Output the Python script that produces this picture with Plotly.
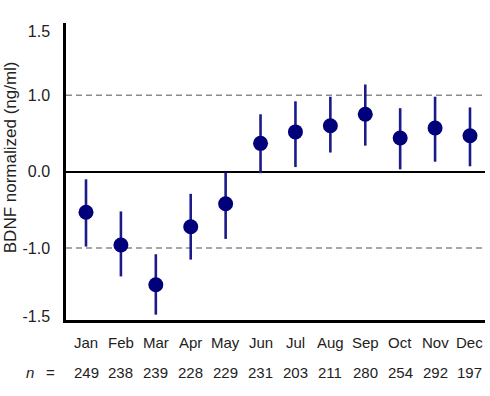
import plotly.graph_objects as go

months = ["Jan", "Feb", "Mar", "Apr", "May", "Jun", "Jul", "Aug", "Sep", "Oct", "Nov", "Dec"]
means = [-0.53, -0.96, -1.48, -0.72, -0.42, 0.37, 0.52, 0.60, 0.75, 0.44, 0.57, 0.47]
upper = [-0.10, -0.52, -1.08, -0.29, -0.01, 0.75, 0.92, 0.98, 1.14, 0.83, 0.98, 0.84]
lower = [-0.98, -1.37, -1.87, -1.15, -0.88, -0.02, 0.06, 0.25, 0.34, 0.03, 0.13, 0.07]
n_values = [249, 238, 239, 228, 229, 231, 203, 211, 280, 254, 292, 197]
ytick_vals = [-1.895, -1.0, 0.0, 1.0, 1.84]
ytick_text = ["-1.5", "-1.0", "0.0", "1.0", "1.5"]

FONT = "Liberation Sans, Arial, sans-serif"
TXT = "#222222"
NAVY = "#00007a"

x_idx = list(range(len(months)))
err_plus = [u - m for u, m in zip(upper, means)]
err_minus = [m - l for m, l in zip(means, lower)]

fig = go.Figure()
fig.add_trace(go.Scatter(
    x=x_idx, y=means, mode="markers",
    marker=dict(size=15, color=NAVY, line=dict(width=0)),
    error_y=dict(type="data", symmetric=False, array=err_plus, arrayminus=err_minus,
                 thickness=2.6, width=0, color="#1a1a8a"),
    showlegend=False, hoverinfo="skip",
))

# dashed reference lines at +/-1
for yv in (1.0, -1.0):
    fig.add_shape(type="line", xref="paper", yref="y", x0=0, x1=1, y0=yv, y1=yv,
                  line=dict(color="#8a8a8a", width=1.5, dash="6px,4px"), layer="below")

annotations = []
for i, (m, n) in enumerate(zip(months, n_values)):
    annotations.append(dict(x=i, y=-0.077, xref="x", yref="paper", text=m, showarrow=False,
                            font=dict(family=FONT, size=15, color=TXT), xanchor="center", yanchor="middle"))
    annotations.append(dict(x=i, y=-0.178, xref="x", yref="paper", text=str(n), showarrow=False,
                            font=dict(family=FONT, size=15, color=TXT), xanchor="center", yanchor="middle"))
annotations.append(dict(x=-0.086, y=-0.178, xref="paper", yref="paper", text="<i>n</i>", showarrow=False,
                        font=dict(family=FONT, size=15, color=TXT), xanchor="center", yanchor="middle"))
annotations.append(dict(x=-0.038, y=-0.178, xref="paper", yref="paper", text="=", showarrow=False,
                        font=dict(family=FONT, size=15, color=TXT), xanchor="center", yanchor="middle"))
annotations.append(dict(x=-0.132, y=0.547, xref="paper", yref="paper", text="BDNF normalized (ng/ml)",
                        textangle=-90, showarrow=False,
                        font=dict(family=FONT, size=17, color=TXT), xanchor="center", yanchor="middle"))

fig.update_layout(
    width=490, height=396,
    margin=dict(l=66, r=5, t=23, b=76),
    paper_bgcolor="white", plot_bgcolor="white",
    font=dict(family=FONT, color=TXT),
    annotations=annotations,
    xaxis=dict(range=[-0.573, 11.43], showgrid=False, zeroline=False, showticklabels=False,
               showline=True, linecolor="black", linewidth=2.5, ticks=""),
    yaxis=dict(range=[-1.94, 1.944], showgrid=False, zeroline=True, zerolinecolor="black",
               zerolinewidth=1.8, showline=True, linecolor="black", linewidth=2.5,
               tickvals=ytick_vals, ticktext=ytick_text, ticks="", automargin=False,
               tickfont=dict(family=FONT, size=16, color=TXT), ticklabelstandoff=10),
)

# remove the browser's default 8px body margin so the figure sits at the window origin
fig.write_html("out.html", config={"displayModeBar": False},
               post_script="document.body.style.margin='0';")
